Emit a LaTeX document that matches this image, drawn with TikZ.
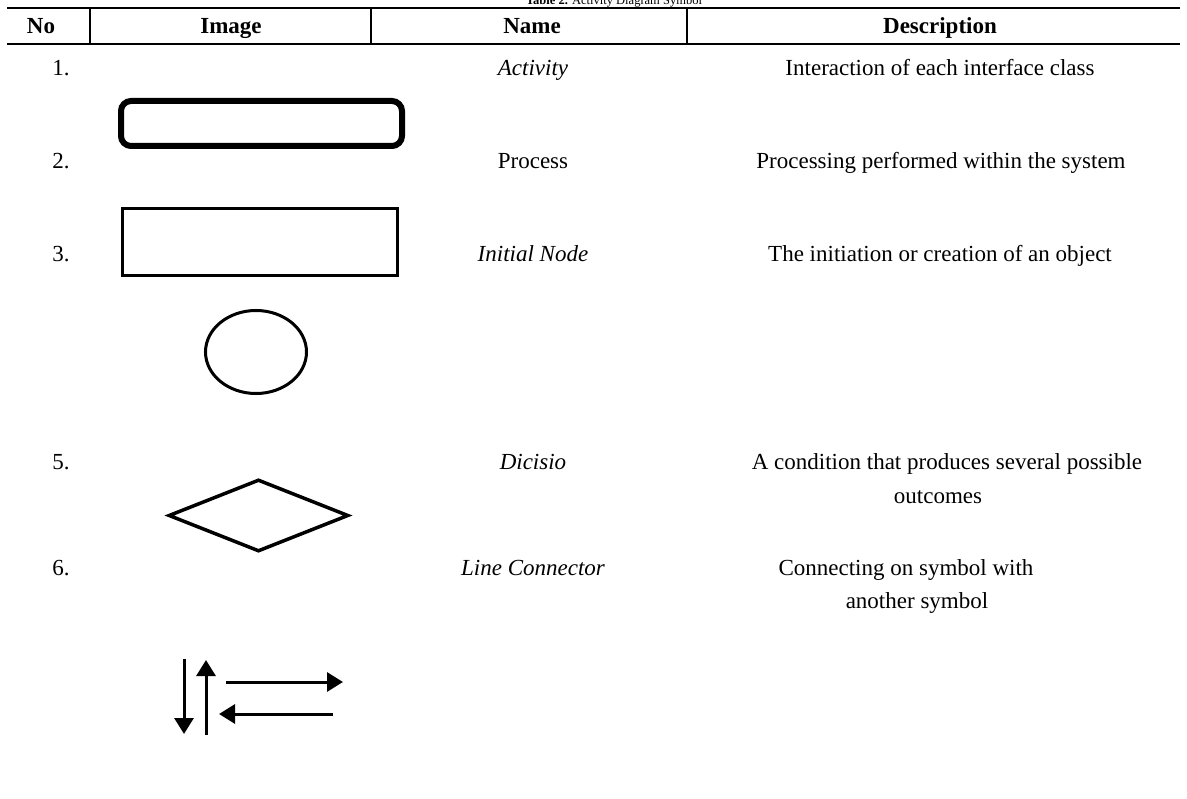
\documentclass[tikz,border=0pt]{standalone}
\usepackage{fontspec}
\setmainfont{Liberation Serif}
\usetikzlibrary{arrows.meta,shapes.geometric}
\begin{document}
\begin{tikzpicture}[x=1pt,y=-1pt,
  txt/.style={inner sep=0pt, anchor=base, font=\fontsize{23}{27}\selectfont},
  hdr/.style={inner sep=0pt, anchor=base, font=\fontsize{23}{27}\selectfont\bfseries},
  rulel/.style={line width=2.8pt},
  sepl/.style={line width=1.5pt},
  shp/.style={draw, inner sep=0pt},
  arr/.style={line width=3pt, -{Triangle[width=19pt,length=16pt]}}]
\useasboundingbox[fill=white] (0,0) rectangle (1187,799);
% title
\node[inner sep=0pt, anchor=base, font=\fontsize{12.5}{14}\selectfont] (title) at (614,4.5) {\textbf{Table 2.} Activity Diagram Symbol};
% rules
\draw[rulel] (7,8) -- (1180,8);
\draw[rulel] (7,44) -- (1180,44);
\draw[sepl] (90,8) -- (90,44);
\draw[sepl] (371,8) -- (371,44);
\draw[sepl] (687,8) -- (687,44);
% headers
\node[hdr] (hno) at (41,34) {No};
\node[hdr] (himg) at (231,34) {Image};
\node[hdr] (hname) at (532,34) {Name};
\node[hdr] (hdesc) at (940,34) {Description};
% row 1
\node[txt] (n1) at (61,76) {1.};
\node[txt] (a1) at (533,76) {\itshape Activity};
\node[txt] (d1) at (940,76) {Interaction of each interface class};
\node[shp, rectangle, rounded corners=10pt, line width=6pt, minimum width=281pt, minimum height=45pt] (activity) at (261.5,123.5) {};
% row 2
\node[txt] (n2) at (61,169) {2.};
\node[txt] (a2) at (533,169) {Process};
\node[txt] (d2) at (941,169) {Processing performed within the system};
\node[shp, rectangle, line width=3.5pt, minimum width=275pt, minimum height=67pt] (process) at (260,242) {};
% row 3
\node[txt] (n3) at (61,262) {3.};
\node[txt] (a3) at (533,262) {\itshape Initial Node};
\node[txt] (d3) at (940,262) {The initiation or creation of an object};
\node[shp, ellipse, line width=3pt, minimum width=101pt, minimum height=83pt] (initial) at (256,352) {};
% row 5
\node[txt] (n5) at (61,470) {5.};
\node[txt] (a5) at (533,470) {\itshape Dicisio};
\node[txt] (d5) at (947,470) {A condition that produces several possible};
\node[txt] (d5b) at (938,504) {outcomes};
\node[shp, diamond, line width=3.5pt, minimum width=180pt, minimum height=72pt] (decision) at (258.5,515.5) {};
% row 6
\node[txt] (n6) at (61,576) {6.};
\node[txt] (a6) at (533,576) {\itshape Line Connector};
\node[txt] (d6) at (906,576) {Connecting on symbol with};
\node[txt] (d6b) at (917,608) {another symbol};
% connector symbols
\coordinate (dnS) at (184,659);
\coordinate (dnE) at (184,734);
\coordinate (upS) at (206,735);
\coordinate (upE) at (206,660);
\coordinate (rtS) at (226,682);
\coordinate (rtE) at (343,682);
\coordinate (lfS) at (333,714);
\coordinate (lfE) at (219,714);
\draw[arr] (dnS) -- (dnE);
\draw[arr] (upS) -- (upE);
\draw[arr] (rtS) -- (rtE);
\draw[arr] (lfS) -- (lfE);
\end{tikzpicture}
\end{document}
